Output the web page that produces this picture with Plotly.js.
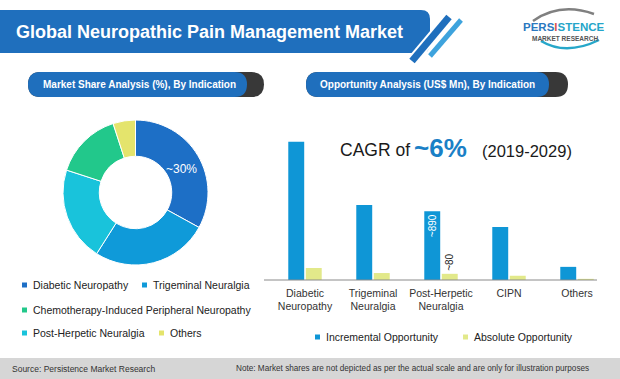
<!DOCTYPE html>
<html><head><meta charset="utf-8">
<script src="https://cdn.plot.ly/plotly-3.0.1.min.js"></script>
<style>html,body{margin:0;padding:0;background:#fff}#chart{width:620px;height:379px}</style>
</head><body><div id="chart"></div>
<script>
// ---- data ----
const shareLabels = ['Diabetic Neuropathy','Trigeminal Neuralgia','Post-Herpetic Neuralgia','Chemotherapy-Induced Peripheral Neuropathy','Others'];
const shareValues = [33, 26, 21, 15, 5];
const shareColors = ['#1d6fc6','#0f9ad9','#19c3db','#22c88b','#e4e46c'];
const shareCallout = '~30%';

const categories = ['Diabetic<br>Neuropathy','Trigeminal<br>Neuralgia','Post-Herpetic<br>Neuralgia','CIPN','Others'];
const incremental = [1790, 970, 890, 685, 170];
const absolute = [155, 90, 80, 55, 15];
const incrementalText = ['', '', '~890', '', ''];
const absoluteText = ['', '', '~80', '', ''];
const seriesNames = ['Incremental Opportunity','Absolute Opportunity'];
const seriesColors = ['#0f96d6','#e2e98a'];

// ---- helpers (pixel -> paper) ----
const W = 620, H = 379;
const X = p => p / W;
const Y = p => 1 - p / H;
function rr(x0, y0, x1, y1, r) {
  return `M${X(x0+r)},${Y(y0)} L${X(x1-r)},${Y(y0)} Q${X(x1)},${Y(y0)} ${X(x1)},${Y(y0+r)} ` +
         `L${X(x1)},${Y(y1-r)} Q${X(x1)},${Y(y1)} ${X(x1-r)},${Y(y1)} L${X(x0+r)},${Y(y1)} ` +
         `Q${X(x0)},${Y(y1)} ${X(x0)},${Y(y1-r)} L${X(x0)},${Y(y0+r)} Q${X(x0)},${Y(y0)} ${X(x0+r)},${Y(y0)} Z`;
}
function pth(cmds) {
  return cmds.map(c => c[0] + c.slice(1).reduce((s, v, i) => s + (i ? (i % 2 ? ',' : ' ') : '') + (i % 2 ? Y(v) : X(v)), '')).join(' ');
}
const SANS = 'Liberation Sans, Arial, sans-serif';

const shapes = [];
const annotations = [];
function rect(x0, y0, x1, y1, color) {
  shapes.push({type:'rect', xref:'paper', yref:'paper', x0:X(x0), x1:X(x1), y0:Y(y1), y1:Y(y0), fillcolor:color, line:{width:0}});
}
function text(t, x, y, opts) {
  annotations.push(Object.assign({text:t, xref:'paper', yref:'paper', x:X(x), y:Y(y), showarrow:false,
    xanchor:'left', yanchor:'middle', font:{family:SANS, size:11, color:'#222'}}, opts || {}));
}

// title banner
shapes.push({type:'path', xref:'paper', yref:'paper', path: rr(-12, 10, 430, 53, 9), fillcolor:'#1f6fbd', line:{width:0}});
shapes.push({type:'line', xref:'paper', yref:'paper', x0:X(412), y0:Y(61), x1:X(449), y1:Y(17), line:{color:'#ffffff', width:11}});
shapes.push({type:'line', xref:'paper', yref:'paper', x0:X(412), y0:Y(61), x1:X(449), y1:Y(17), line:{color:'#1f6fbd', width:7}});
shapes.push({type:'line', xref:'paper', yref:'paper', x0:X(430), y0:Y(56), x1:X(461), y1:Y(20), line:{color:'#3ea3dd', width:5}});
text('Global Neuropathic Pain Management Market', 14, 31.5, {font:{family:SANS, size:18, color:'#ffffff', weight:'bold'}});

// logo
shapes.push({type:'path', xref:'paper', yref:'paper', path: pth([['M',533,21],['Q',560,2,594,14]]), line:{color:'#808080', width:2.5}});
shapes.push({type:'path', xref:'paper', yref:'paper', path: pth([['M',541,41],['Q',566,56,599,40]]), line:{color:'#27a7c9', width:2.5}});
text('<span style="color:#2a78bf">PERS</span><span style="color:#d9534f">I</span><span style="color:#24a5c9">STENCE</span>', 564, 27.5,
     {xanchor:'center', font:{family:SANS, size:11.5, weight:'bold'}});
text('MARKET RESEARCH', 565, 38.5, {xanchor:'center', font:{family:SANS, size:6.5, color:'#555', weight:'bold'}});

// section pills
shapes.push({type:'path', xref:'paper', yref:'paper', path: rr(28, 72, 264, 97, 12.5), fillcolor:'#383838', line:{width:0}});
shapes.push({type:'path', xref:'paper', yref:'paper', path: rr(28, 72, 247, 97, 12.5), fillcolor:'#1f6fbd', line:{width:0}});
shapes.push({type:'path', xref:'paper', yref:'paper', path: rr(306, 72, 568, 97, 12.5), fillcolor:'#383838', line:{width:0}});
shapes.push({type:'path', xref:'paper', yref:'paper', path: rr(306, 72, 549, 97, 12.5), fillcolor:'#1f6fbd', line:{width:0}});
text('Market Share Analysis (%), By Indication', 139.5, 84.5, {xanchor:'center', font:{family:SANS, size:10, color:'#ffffff', weight:'bold'}});
text('Opportunity Analysis (US$ Mn), By Indication', 427, 84.5, {xanchor:'center', font:{family:SANS, size:10, color:'#ffffff', weight:'bold'}});

// donut callout
text(shareCallout, 181, 169, {xanchor:'center', font:{family:SANS, size:12, color:'#ffffff'}});

// donut legend (rows as in reference)
const pieLegendPos = [[22, 285], [142, 285], [22, 333], [22, 310], [159, 333]];
shareLabels.forEach((lab, i) => {
  const [lx, ly] = pieLegendPos[i];
  rect(lx, ly - 2.5, lx + 5, ly + 2.5, shareColors[i]);
  text(lab, lx + 9, ly, {font:{family:SANS, size:10.5, color:'#222'}});
});

// CAGR
text('CAGR of', 338, 150, {font:{family:SANS, size:17.5, color:'#1a1a1a'}});
text('~6%', 412, 148.5, {font:{family:SANS, size:26, color:'#1a80c6', weight:'bold'}});
text('(2019-2029)', 480, 151, {font:{family:SANS, size:16.5, color:'#1a1a1a'}});

// bar baseline
shapes.push({type:'line', xref:'paper', yref:'paper', x0:X(264), x1:X(597), y0:Y(280), y1:Y(280), line:{color:'#8a8a8a', width:1}});

// bar legend
const barLegendPos = [[315, 337], [463, 337]];
seriesNames.forEach((n, i) => {
  const [lx, ly] = barLegendPos[i];
  rect(lx, ly - 2.5, lx + 5, ly + 2.5, seriesColors[i]);
  text(n, lx + 9, ly, {font:{family:SANS, size:10.5, color:'#222'}});
});

// footer
rect(0, 358, 620, 379, '#d6d6d6');
text('Source: Persistence Market Research', 10, 368.5, {font:{family:SANS, size:8.5, color:'#333'}});
text('Note: Market shares are not depicted as per the actual scale and are only for illustration purposes', 234, 368.5, {font:{family:SANS, size:8.2, color:'#333'}});

const traces = [
  {type:'pie', labels:shareLabels, values:shareValues, marker:{colors:shareColors, line:{color:'#ffffff', width:1}},
   hole:0.5, sort:false, direction:'clockwise', rotation:0, textinfo:'none', hoverinfo:'label+percent',
   domain:{x:[X(63), X(208)], y:[Y(265), Y(120)]}, showlegend:false},
  {type:'bar', x:categories, y:incremental, name:seriesNames[0], marker:{color:seriesColors[0]},
   text:incrementalText, textposition:'inside', insidetextanchor:'end', textangle:-90, constraintext:'none',
   textfont:{family:SANS, size:10, color:'#ffffff'}, showlegend:false},
  {type:'bar', x:categories, y:absolute, name:seriesNames[1], marker:{color:seriesColors[1]},
   text:absoluteText, textposition:'outside', textangle:-90, constraintext:'none', cliponaxis:false,
   textfont:{family:SANS, size:10, color:'#222'}, showlegend:false}
];

const layout = {
  width: W, height: H, margin:{l:0, r:0, t:0, b:0},
  paper_bgcolor:'#ffffff', plot_bgcolor:'rgba(0,0,0,0)',
  barmode:'group', bargap:0.485, bargroupgap:0.09,
  xaxis:{domain:[X(271), X(611)], showline:false, showgrid:false, zeroline:false, ticks:'', ticklabelstandoff:5,
         tickfont:{family:SANS, size:10.5, color:'#333'}, fixedrange:true},
  yaxis:{domain:[Y(280), Y(120)], range:[0, 2070], visible:false, fixedrange:true},
  shapes, annotations, showlegend:false
};

Plotly.newPlot('chart', traces, layout, {displayModeBar:false, staticPlot:true});
</script>
</body></html>
